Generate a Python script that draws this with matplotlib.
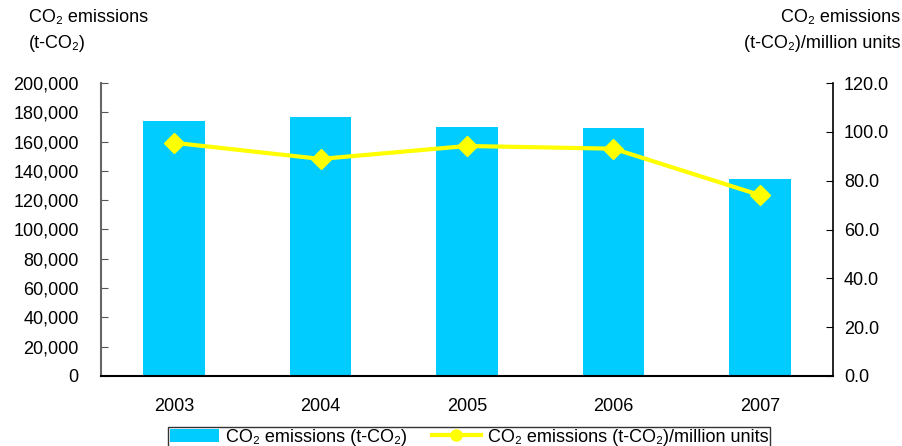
import matplotlib
matplotlib.use("Agg")
import matplotlib.pyplot as plt
from matplotlib.ticker import FuncFormatter
from matplotlib.lines import Line2D
from matplotlib.patches import Patch

years = ["2003", "2004", "2005", "2006", "2007"]
emissions = [174000, 177000, 170000, 169300, 134500]
per_unit = [95.5, 88.9, 94.2, 93.1, 74.1]

plt.rcParams['font.family'] = ['Liberation Sans', 'DejaVu Sans']
plt.rcParams['font.size'] = 13

fig = plt.figure(figsize=(9.02, 4.46), dpi=100)
ax = fig.add_axes([101/902, 1-376/446, (833-101)/902, (376-83)/446])
x = list(range(len(years)))
ax.bar(x, emissions, width=0.42, color="#00CCFF", zorder=2)
ax.set_xlim(-0.5, 4.5)
ax.set_ylim(0, 200000)
ax.set_yticks(range(0, 200001, 20000))
ax.yaxis.set_major_formatter(FuncFormatter(lambda v, p: f"{int(v):,}"))
ax.set_xticks(x)
ax.set_xticklabels(years)
ax.tick_params(axis='x', length=0, pad=16)
ax.tick_params(axis='y', direction='in', length=5, pad=16, color='#555555')
for s in ['top', 'right']:
    ax.spines[s].set_visible(False)
ax.spines['left'].set_color('#666666')
ax.spines['left'].set_linewidth(1.5)
ax.spines['bottom'].set_color('black')
ax.spines['bottom'].set_linewidth(1.5)

ax2 = ax.twinx()
ax2.plot(x, per_unit, color="#FFFF00", lw=3, marker='D', markersize=10, zorder=3)
ax2.set_ylim(0, 120)
ax2.set_yticks(range(0, 121, 20))
ax2.yaxis.set_major_formatter(FuncFormatter(lambda v, p: f"{v:.1f}"))
ax2.tick_params(axis='y', direction='in', length=5, pad=8)
for s in ['top', 'left', 'bottom']:
    ax2.spines[s].set_visible(False)
ax2.spines['right'].set_linewidth(1.2)

fig.text(29/902, 1-18/446, "CO₂ emissions", ha='left', va='center')
fig.text(29/902, 1-43/446, "(t-CO₂)", ha='left', va='center')
fig.text(900/902, 1-18/446, "CO₂ emissions", ha='right', va='center')
fig.text(900/902, 1-43/446, "(t-CO₂)/million units", ha='right', va='center')

handles = [Patch(facecolor="#00CCFF", edgecolor='none'),
           Line2D([0], [0], color="#FFFF00", lw=3, marker='o', markersize=8)]
labels = ["CO₂ emissions (t-CO₂)", "CO₂ emissions (t-CO₂)/million units"]
leg = fig.legend(handles, labels, loc='upper left', bbox_to_anchor=(168/902, 1-427/446),
                 ncol=2, frameon=True, fancybox=False, edgecolor='black',
                 borderaxespad=0, columnspacing=1.4, handlelength=2.7,
                 handletextpad=0.4, borderpad=0.1)
leg.get_frame().set_linewidth(1.0)

fig.savefig("out.png", dpi=100)
